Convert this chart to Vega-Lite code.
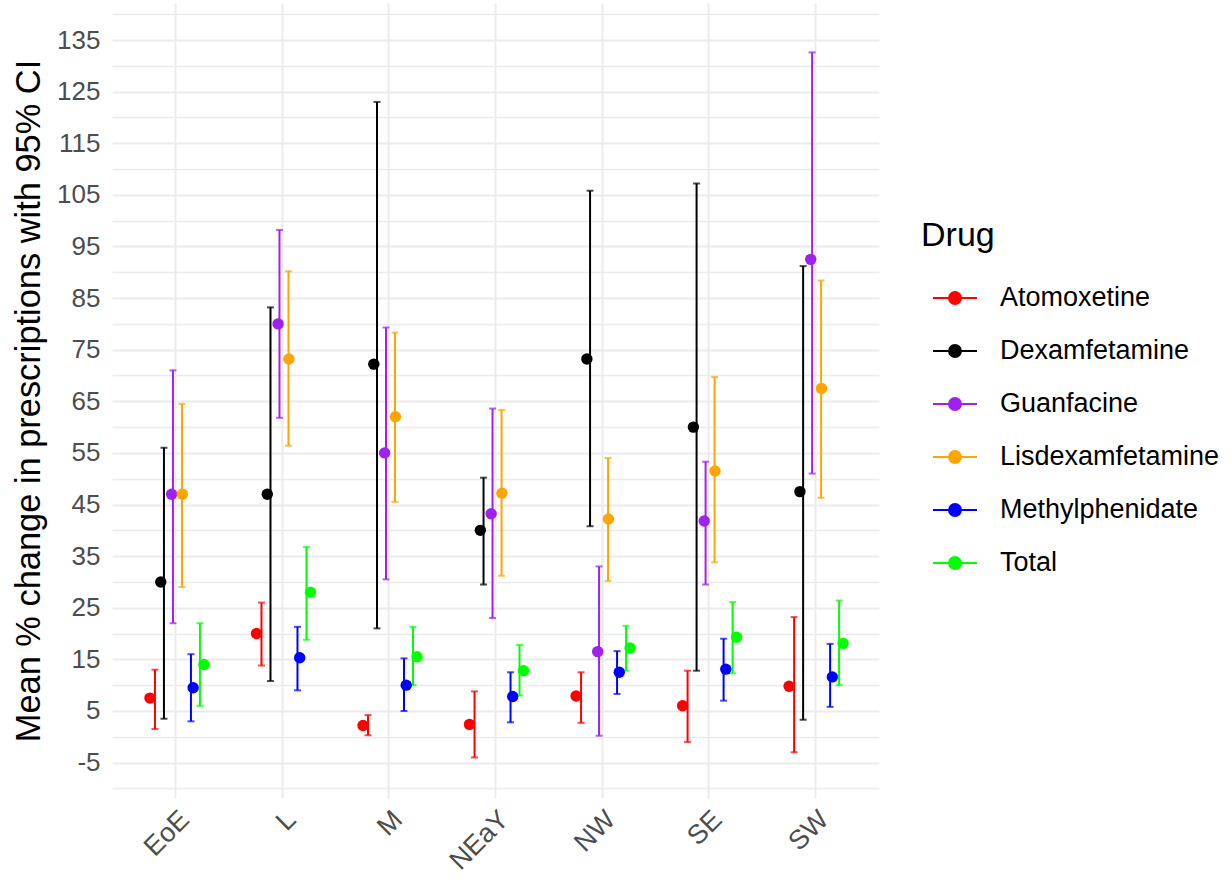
{
  "$schema": "https://vega.github.io/schema/vega-lite/v6.json",
  "width": 767,
  "height": 795,
  "autosize": {"type": "none"},
  "padding": {"left": 112, "top": 3, "right": 352, "bottom": 83},
  "background": "white",
  "config": {"font": "Liberation Sans", "view": {"stroke": null}},
  "data": {
    "values": [
      {"Region": "EoE", "Drug": "Atomoxetine", "mean": 7.5, "lo": 1.5, "hi": 13},
      {"Region": "EoE", "Drug": "Dexamfetamine", "mean": 30, "lo": 3.5, "hi": 56},
      {"Region": "EoE", "Drug": "Guanfacine", "mean": 47, "lo": 22, "hi": 71},
      {"Region": "EoE", "Drug": "Lisdexamfetamine", "mean": 47, "lo": 29, "hi": 64.5},
      {"Region": "EoE", "Drug": "Methylphenidate", "mean": 9.5, "lo": 3, "hi": 16},
      {"Region": "EoE", "Drug": "Total", "mean": 14, "lo": 6, "hi": 22},
      {"Region": "L", "Drug": "Atomoxetine", "mean": 20, "lo": 13.8, "hi": 26},
      {"Region": "L", "Drug": "Dexamfetamine", "mean": 47, "lo": 10.8, "hi": 83.2},
      {"Region": "L", "Drug": "Guanfacine", "mean": 80, "lo": 61.8, "hi": 98.2},
      {"Region": "L", "Drug": "Lisdexamfetamine", "mean": 73.2, "lo": 56.4, "hi": 90.2},
      {"Region": "L", "Drug": "Methylphenidate", "mean": 15.3, "lo": 9, "hi": 21.3},
      {"Region": "L", "Drug": "Total", "mean": 28, "lo": 18.8, "hi": 36.8},
      {"Region": "M", "Drug": "Atomoxetine", "mean": 2.2, "lo": 0.3, "hi": 4.2},
      {"Region": "M", "Drug": "Dexamfetamine", "mean": 72.2, "lo": 21, "hi": 123},
      {"Region": "M", "Drug": "Guanfacine", "mean": 55, "lo": 30.5, "hi": 79.3},
      {"Region": "M", "Drug": "Lisdexamfetamine", "mean": 62, "lo": 45.5, "hi": 78.3},
      {"Region": "M", "Drug": "Methylphenidate", "mean": 10, "lo": 5, "hi": 15.2},
      {"Region": "M", "Drug": "Total", "mean": 15.5, "lo": 10, "hi": 21.3},
      {"Region": "NEaY", "Drug": "Atomoxetine", "mean": 2.4, "lo": -4, "hi": 8.8},
      {"Region": "NEaY", "Drug": "Dexamfetamine", "mean": 40, "lo": 29.5, "hi": 50.2},
      {"Region": "NEaY", "Drug": "Guanfacine", "mean": 43.2, "lo": 23, "hi": 63.6},
      {"Region": "NEaY", "Drug": "Lisdexamfetamine", "mean": 47.2, "lo": 31.2, "hi": 63.3},
      {"Region": "NEaY", "Drug": "Methylphenidate", "mean": 7.8, "lo": 2.8, "hi": 12.5},
      {"Region": "NEaY", "Drug": "Total", "mean": 12.8, "lo": 8, "hi": 17.8},
      {"Region": "NW", "Drug": "Atomoxetine", "mean": 7.9, "lo": 2.7, "hi": 12.5},
      {"Region": "NW", "Drug": "Dexamfetamine", "mean": 73.2, "lo": 40.8, "hi": 105.8},
      {"Region": "NW", "Drug": "Guanfacine", "mean": 16.5, "lo": 0.2, "hi": 33},
      {"Region": "NW", "Drug": "Lisdexamfetamine", "mean": 42.2, "lo": 30.2, "hi": 54},
      {"Region": "NW", "Drug": "Methylphenidate", "mean": 12.5, "lo": 8.3, "hi": 16.6},
      {"Region": "NW", "Drug": "Total", "mean": 17.2, "lo": 12.8, "hi": 21.5},
      {"Region": "SE", "Drug": "Atomoxetine", "mean": 6, "lo": -1, "hi": 12.8},
      {"Region": "SE", "Drug": "Dexamfetamine", "mean": 60, "lo": 12.8, "hi": 107.2},
      {"Region": "SE", "Drug": "Guanfacine", "mean": 41.8, "lo": 29.5, "hi": 53.3},
      {"Region": "SE", "Drug": "Lisdexamfetamine", "mean": 51.5, "lo": 33.8, "hi": 69.7},
      {"Region": "SE", "Drug": "Methylphenidate", "mean": 13.1, "lo": 7, "hi": 19},
      {"Region": "SE", "Drug": "Total", "mean": 19.3, "lo": 12.3, "hi": 26.1},
      {"Region": "SW", "Drug": "Atomoxetine", "mean": 9.8, "lo": -3, "hi": 23.2},
      {"Region": "SW", "Drug": "Dexamfetamine", "mean": 47.5, "lo": 3.3, "hi": 91.2},
      {"Region": "SW", "Drug": "Guanfacine", "mean": 92.5, "lo": 51, "hi": 132.6},
      {"Region": "SW", "Drug": "Lisdexamfetamine", "mean": 67.5, "lo": 46.3, "hi": 88.4},
      {"Region": "SW", "Drug": "Methylphenidate", "mean": 11.6, "lo": 5.8, "hi": 18},
      {"Region": "SW", "Drug": "Total", "mean": 18.1, "lo": 10, "hi": 26.4}
    ]
  },
  "encoding": {
    "x": {
      "field": "Region", "type": "nominal",
      "sort": ["EoE", "L", "M", "NEaY", "NW", "SE", "SW"],
      "scale": {"paddingInner": 0, "paddingOuter": 0.1},
      "axis": {
        "title": null, "labelAngle": -45, "labelAlign": "right", "labelBaseline": "top",
        "labelFontSize": 27, "labelColor": "#4D4D4D", "ticks": false, "domain": false,
        "grid": true, "gridColor": "#EBEBEB", "gridWidth": 2, "labelPadding": 8
      }
    },
    "color": {
      "field": "Drug", "type": "nominal",
      "scale": {
        "domain": ["Atomoxetine", "Dexamfetamine", "Guanfacine", "Lisdexamfetamine", "Methylphenidate", "Total"],
        "range": ["#FF0000", "#000000", "#A020F0", "#FFA500", "#0000FF", "#00FF00"]
      },
      "legend": {
        "title": "Drug", "orient": "none", "legendX": 809, "legendY": 216,
        "symbolType": "M-1,0L1,0M-0.27,0A0.27,0.27,0,1,0,0.27,0A0.27,0.27,0,1,0,-0.27,0Z",
        "symbolSize": 1936, "symbolStrokeWidth": 2, "symbolOffset": 11,
        "labelFontSize": 27, "labelColor": "black", "labelOffset": 22, "labelLimit": 400,
        "titleFontSize": 34, "titleFontWeight": "normal", "titleColor": "black", "titlePadding": 22,
        "rowPadding": 17, "padding": 0,
        "encode": {"symbols": {"update": {
          "fill": {"scale": "color", "field": "value"},
          "stroke": {"scale": "color", "field": "value"},
          "strokeWidth": {"value": 2},
          "opacity": {"value": 1}
        }}}
      }
    }
  },
  "layer": [
    {
      "mark": {"type": "rule", "strokeWidth": 2},
      "encoding": {
        "xOffset": {"field": "Drug", "type": "nominal", "scale": {"paddingInner": 0, "paddingOuter": 0, "range": [27.8, 81.8]}},
        "y": {
          "field": "lo", "type": "quantitative",
          "scale": {"domain": [-11.86, 142.17], "nice": false, "zero": false},
          "axis": {
            "orient": "right", "values": [-10, 0, 10, 20, 30, 40, 50, 60, 70, 80, 90, 100, 110, 120, 130, 140],
            "grid": true, "gridColor": "#EBEBEB", "gridWidth": 1.5,
            "labels": false, "ticks": false, "domain": false, "title": null
          }
        },
        "y2": {"field": "hi"}
      }
    },
    {
      "mark": {"type": "tick", "thickness": 2, "size": 7},
      "encoding": {
        "xOffset": {"field": "Drug", "type": "nominal", "scale": {"paddingInner": 0, "paddingOuter": 0, "range": [27.8, 81.8]}},
        "y": {"field": "hi", "type": "quantitative", "axis": null}
      }
    },
    {
      "mark": {"type": "tick", "thickness": 2, "size": 7},
      "encoding": {
        "xOffset": {"field": "Drug", "type": "nominal", "scale": {"paddingInner": 0, "paddingOuter": 0, "range": [27.8, 81.8]}},
        "y": {"field": "lo", "type": "quantitative", "axis": null}
      }
    },
    {
      "mark": {"type": "point", "filled": true, "size": 130, "opacity": 1},
      "encoding": {
        "xOffset": {"field": "Drug", "type": "nominal", "scale": {"padding": 0, "range": [27.3, 81.3]}},
        "y": {
          "field": "mean", "type": "quantitative",
          "axis": {
            "orient": "left", "title": "Mean % change in prescriptions with 95% CI",
            "values": [-5, 5, 15, 25, 35, 45, 55, 65, 75, 85, 95, 105, 115, 125, 135],
            "labelExpr": "'' + datum.value",
            "grid": true, "gridColor": "#EBEBEB", "gridWidth": 2,
            "ticks": false, "domain": false,
            "labelFontSize": 26, "labelColor": "#4D4D4D", "labelPadding": 12,
            "titleFontSize": 34.4, "titleFontWeight": "normal", "titleColor": "black", "titlePadding": 10
          }
        }
      }
    }
  ],
  "resolve": {"scale": {"xOffset": "independent"}, "axis": {"y": "independent"}}
}
